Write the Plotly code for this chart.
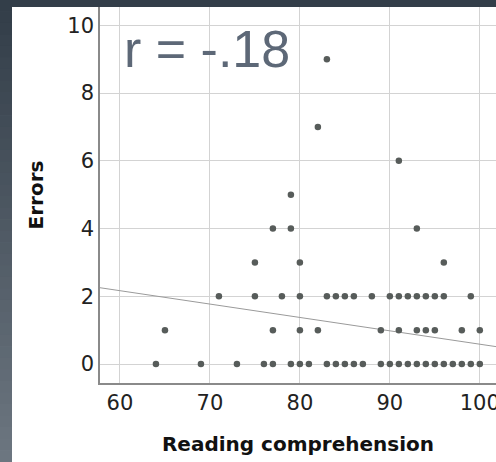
import numpy as np
import plotly.graph_objects as go

# Data (reading comprehension score, errors)
reading_row0 = [64, 69, 73, 76, 77, 79, 80, 81, 83, 84, 85, 86, 87, 89, 90, 91, 92, 93, 94, 95, 96, 97, 98, 99, 100]
reading_row1 = [65, 77, 80, 82, 89, 91, 93, 94, 95, 98, 100]
reading_row2 = [71, 75, 78, 80, 83, 84, 85, 86, 88, 90, 91, 92, 93, 94, 95, 96, 99]
reading_row3 = [75, 80, 96]
reading_row4 = [77, 79, 93]
reading_row5 = [79]
reading_row6 = [91]
reading_row7 = [82]
reading_row9 = [83]

# fitted regression line
fit_intercept = 4.535
fit_slope = -0.0395

r_label = "r = -.18"
x_ticks = [60, 70, 80, 90, 100]
y_ticks = [0, 2, 4, 6, 8, 10]
x_range = [57.78, 101.8]
y_range = [-0.56, 10.54]

rows = {0: reading_row0, 1: reading_row1, 2: reading_row2, 3: reading_row3, 4: reading_row4,
        5: reading_row5, 6: reading_row6, 7: reading_row7, 9: reading_row9}
reading = []
errors = []
for e, xs in rows.items():
    reading += xs
    errors += [e] * len(xs)

line_x = np.array(x_range)
line_y = fit_intercept + fit_slope * line_x

fig = go.Figure()
fig.add_trace(go.Scatter(x=line_x, y=line_y, mode="lines",
                         line=dict(color="#9a9a9a", width=1), hoverinfo="skip", showlegend=False))
fig.add_trace(go.Scatter(x=reading, y=errors, mode="markers",
                         marker=dict(color="#575c5a", size=6.5, line=dict(width=0)), showlegend=False))

W, H = 496, 462
ml, mb, mt, mr = 100, 79, 7, 0
ph = H - mt - mb
pw = W - ml - mr

shapes = []
# top dark strip
shapes.append(dict(type="rect", xref="paper", yref="paper", x0=-ml / pw, x1=1.01,
                   y0=1.0, y1=1 + mt / ph, fillcolor="#333e49", line=dict(width=0), layer="below"))
# left gradient strip
n = 40
top_c = np.array([0x33, 0x3e, 0x49])
bot_c = np.array([0x6c, 0x76, 0x80])
for i in range(n):
    t = i / (n - 1)
    c = (top_c + (bot_c - top_c) * t).astype(int)
    y1p = H - i * H / n
    y0p = H - (i + 1) * H / n
    shapes.append(dict(type="rect", xref="paper", yref="paper",
                       x0=-ml / pw, x1=(12 - ml) / pw,
                       y0=(y0p - mb) / ph - 0.001, y1=(y1p - mb) / ph + 0.001,
                       fillcolor="rgb(%d,%d,%d)" % tuple(c), line=dict(width=0), layer="below"))

fig.update_layout(
    width=W, height=H,
    margin=dict(l=ml, r=mr, t=mt, b=mb, pad=0),
    paper_bgcolor="white", plot_bgcolor="white",
    shapes=shapes,
    font=dict(family="DejaVu Sans", color="#222222"),
    xaxis=dict(range=x_range, tickvals=x_ticks, showgrid=True, gridcolor="#d3d3d3", gridwidth=1,
               zeroline=False, showline=True, linecolor="#8a8a8a", linewidth=1.5,
               ticklabeloverflow="allow", automargin=False,
               tickfont=dict(size=21, family="DejaVu Sans", color="#222222"), ticks="", ticklen=0,
               title=dict(text="<b>Reading comprehension</b>", font=dict(size=20, family="DejaVu Sans", color="#111111"),
                          standoff=23)),
    yaxis=dict(range=y_range, tickvals=y_ticks, showgrid=True, gridcolor="#d3d3d3", gridwidth=1,
               zeroline=False, showline=True, linecolor="#8a8a8a", linewidth=1.5,
               automargin=False,
               tickfont=dict(size=21, family="DejaVu Sans", color="#222222"), ticks="", ticklen=0,
               title=dict(text="<b>Errors</b>", font=dict(size=20, family="DejaVu Sans", color="#111111"),
                          standoff=18)),
    annotations=[dict(text=r_label, xref="paper", yref="paper", x=0.056, y=0.888,
                      xanchor="left", yanchor="middle", showarrow=False,
                      font=dict(size=52, family="Liberation Sans", color="#5d6877"))],
)

fig.write_html("out.html", config={"displayModeBar": False},
               post_script="document.body.style.margin='0';")
